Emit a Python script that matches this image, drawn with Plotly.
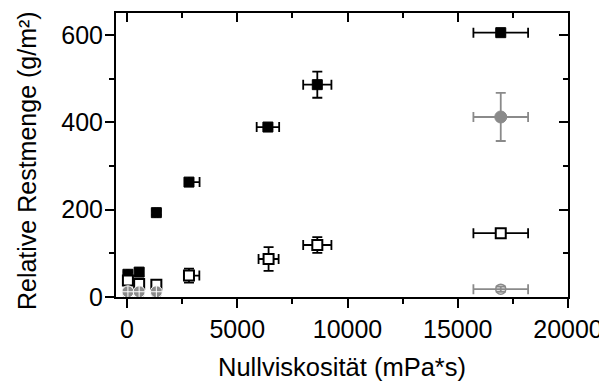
import plotly.graph_objects as go

# ---- data ----
x_black = [40, 550, 1330, 2810, 6390, 8630, 16950]
y_black = [52, 57, 193, 263, 389, 486, 605]
ey_black = [5, 8, 5, 5, 5, 30, 5]
ex_black_plus = [40, 60, 60, 480, 510, 640, 1240]
ex_black_minus = [40, 60, 60, 0, 510, 640, 1240]

x_open = [40, 550, 1330, 2810, 6420, 8630, 16950]
y_open = [38, 30, 28, 49, 87, 119, 146]
ey_open = [5, 5, 5, 16, 27, 18, 10]
ex_open_plus = [40, 60, 60, 470, 455, 640, 1240]
ex_open_minus = [40, 60, 60, 0, 455, 640, 1240]

x_gray = [40, 550, 1330, 16950]
y_gray = [12, 12, 12, 412]
ey_gray = [3, 3, 3, 55]
ex_gray = [40, 60, 60, 1240]

x_gray_open = [40, 550, 1330, 16950]
y_gray_open = [10, 10, 10, 18]
ey_gray_open = [3, 3, 3, 6]
ex_gray_open = [40, 60, 60, 1240]

x_ticks = [0, 5000, 10000, 15000, 20000]
x_ticklabels = ["0", "5000", "10000", "15000", "20000"]
y_ticks = [0, 200, 400, 600]
y_ticklabels = ["0", "200", "400", "600"]

GRAY = "#8a8a8a"
FONT = "Liberation Sans, Arial, sans-serif"

fig = go.Figure()

def eb(arr, minus=None, color="black"):
    d = dict(type="data", array=arr, color=color, thickness=1.8, width=5, visible=True)
    if minus is not None:
        d["symmetric"] = False
        d["arrayminus"] = minus
    return d

fig.add_trace(go.Scatter(
    x=x_black, y=y_black, mode="markers",
    marker=dict(symbol="square", size=10, color="black", line=dict(color="black", width=1)),
    error_x=eb(ex_black_plus, ex_black_minus), error_y=eb(ey_black),
    showlegend=False))

fig.add_trace(go.Scatter(
    x=x_open, y=y_open, mode="markers",
    marker=dict(symbol="square", size=10, color="white", line=dict(color="black", width=2)),
    error_x=eb(ex_open_plus, ex_open_minus), error_y=eb(ey_open),
    showlegend=False))

fig.add_trace(go.Scatter(
    x=x_gray_open, y=y_gray_open, mode="markers",
    marker=dict(symbol="circle-open", size=10, color=GRAY, line=dict(color=GRAY, width=1.5)),
    error_x=eb(ex_gray_open, color=GRAY), error_y=eb(ey_gray_open, color=GRAY),
    showlegend=False))

fig.add_trace(go.Scatter(
    x=x_gray, y=y_gray, mode="markers",
    marker=dict(symbol=["circle-cross", "circle-cross", "circle-cross", "circle"], size=12,
                color=GRAY, line=dict(color=["white", "white", "white", GRAY], width=1)),
    error_x=eb(ex_gray, color=GRAY), error_y=eb(ey_gray, color=GRAY),
    showlegend=False))

# dummy trace for mirrored axes
fig.add_trace(go.Scatter(x=[None], y=[None], xaxis="x2", yaxis="y2", showlegend=False, hoverinfo="skip"))

XR = [-500, 20000]
YR = [0, 650]

# page body has an 8px default margin, so the figure is sized/offset to compensate
fig.update_layout(
    width=599, height=377,
    margin=dict(l=108, r=39, t=5, b=88, autoexpand=False),
    paper_bgcolor="white", plot_bgcolor="white",
    font=dict(family=FONT, size=25, color="black"),
    xaxis=dict(range=XR, tickmode="array", tickvals=x_ticks, ticktext=x_ticklabels, ticks="outside", ticklen=9,
               tickwidth=2, tickcolor="black", showline=True, linewidth=2, linecolor="black",
               showgrid=False, zeroline=False, automargin=False,
               minor=dict(dtick=2500, tick0=0, ticks="outside", ticklen=5, tickwidth=2, tickcolor="black"),
               title=dict(text="Nullviskosität (mPa*s)", font=dict(size=25.5), standoff=16),
               tickfont=dict(size=25)),
    yaxis=dict(range=YR, tickmode="array", tickvals=y_ticks, ticktext=y_ticklabels, ticks="outside", ticklen=9,
               tickwidth=2, tickcolor="black", showline=True, linewidth=2, linecolor="black",
               showgrid=False, zeroline=False, automargin=False, ticklabelstandoff=-3,
               minor=dict(dtick=100, tick0=0, ticks="outside", ticklen=5, tickwidth=2, tickcolor="black"),
               tickfont=dict(size=25)),
    xaxis2=dict(range=XR, overlaying="x", side="top", anchor="y", tickmode="array", tickvals=x_ticks,
                ticks="inside", ticklen=9, tickwidth=2, tickcolor="black", showticklabels=False,
                showline=True, linewidth=2, linecolor="black", showgrid=False, zeroline=False,
                minor=dict(dtick=2500, tick0=0, ticks="inside", ticklen=5, tickwidth=2, tickcolor="black")),
    yaxis2=dict(range=YR, overlaying="y", side="right", anchor="x", tickmode="array", tickvals=y_ticks,
                ticks="inside", ticklen=9, tickwidth=2, tickcolor="black", showticklabels=False,
                showline=True, linewidth=2, linecolor="black", showgrid=False, zeroline=False,
                minor=dict(dtick=100, tick0=0, ticks="inside", ticklen=5, tickwidth=2, tickcolor="black")),
    annotations=[dict(text="Relative Restmenge (g/m²)", textangle=-90, xref="paper", yref="paper",
                      x=-0.197, y=0.482, xanchor="center", yanchor="middle", showarrow=False,
                      font=dict(size=25, family=FONT, color="black"))],
)

fig.write_html("out.html")
